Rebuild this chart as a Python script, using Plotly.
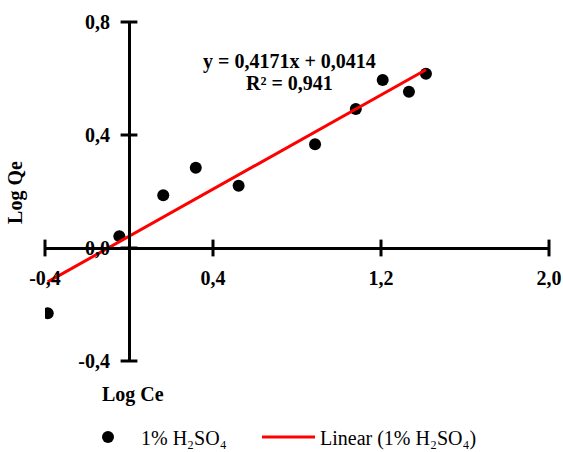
import plotly.graph_objects as go

# Freundlich isotherm data (log-log)
log_ce = [-0.387, -0.046, 0.163, 0.318, 0.522, 0.886, 1.080, 1.208, 1.333, 1.414]
log_qe = [-0.231, 0.042, 0.187, 0.284, 0.220, 0.367, 0.492, 0.595, 0.553, 0.617]

# Linear fit reported on the chart
slope = 0.4171
intercept = 0.0414
r_squared = 0.941

x_ticks = [-0.4, 0.4, 1.2, 2.0]
x_tick_text = ["-0,4", "0,4", "1,2", "2,0"]
y_ticks = [-0.4, 0.0, 0.4, 0.8]
y_tick_text = ["-0,4", "0,0", "0,4", "0,8"]

x_range = [-0.4, 2.0]
y_range = [-0.4, 0.8]

series_name = "1% H₂SO₄"
fit_name = "Linear (1% H₂SO₄)"

FONT = "Liberation Serif, Times New Roman, serif"
BOLD = dict(family=FONT, size=20, color="black", weight="bold")
LEGEND_FONT = dict(family=FONT, size=20, color="black")

fit_x = [min(log_ce), max(log_ce)]
fit_y = [slope * v + intercept for v in fit_x]

fig = go.Figure()

fig.add_trace(go.Scatter(
    x=log_ce, y=log_qe, mode="markers", name=series_name,
    marker=dict(color="black", size=12), legend="legend",
))
fig.add_trace(go.Scatter(
    x=fit_x, y=fit_y, mode="lines", name=fit_name,
    line=dict(color="#ff0000", width=3), legend="legend2",
))

# Cross tick marks on the axes, which meet at the origin
fig.add_trace(go.Scatter(
    x=x_ticks, y=[0] * len(x_ticks), mode="markers", showlegend=False,
    hoverinfo="skip", cliponaxis=False,
    marker=dict(symbol="line-ns", size=12, line=dict(color="black", width=3)),
))
fig.add_trace(go.Scatter(
    x=[0] * len(y_ticks), y=y_ticks, mode="markers", showlegend=False,
    hoverinfo="skip", cliponaxis=False,
    marker=dict(symbol="line-ew", size=12, line=dict(color="black", width=3)),
))

x_pos = (0 - y_range[0]) / (y_range[1] - y_range[0])
y_pos = (0 - x_range[0]) / (x_range[1] - x_range[0])

fig.update_layout(
    width=563, height=452,
    margin=dict(l=45, r=14, t=22, b=91, autoexpand=False),
    paper_bgcolor="white", plot_bgcolor="white",
    font=dict(family=FONT, color="black"),
    xaxis=dict(
        range=x_range, anchor="free", position=x_pos, automargin=False,
        showgrid=False, zeroline=False,
        showline=True, linecolor="black", linewidth=3,
        tickvals=x_ticks, ticktext=x_tick_text, ticks="",
        ticklabelstandoff=11,
        tickfont=BOLD,
    ),
    yaxis=dict(
        range=y_range, anchor="free", position=y_pos, automargin=False,
        showgrid=False, zeroline=False,
        showline=True, linecolor="black", linewidth=3,
        tickvals=y_ticks, ticktext=y_tick_text, ticks="",
        ticklabelstandoff=14,
        tickfont=BOLD,
    ),
    legend=dict(
        orientation="h", xref="container", yref="container",
        x=0.1332, y=0.033, xanchor="left", yanchor="middle",
        font=LEGEND_FONT, itemwidth=56,
    ),
    legend2=dict(
        orientation="h", xref="container", yref="container",
        x=0.4565, y=0.033, xanchor="left", yanchor="middle",
        font=LEGEND_FONT, itemwidth=53,
    ),
    annotations=[
        dict(x=0.762, y=0.661, xref="x", yref="y",
             xanchor="center", yanchor="middle",
             text=f"y = {slope:.4f}x + {intercept:.4f}".replace(".", ","),
             showarrow=False, font=BOLD),
        dict(x=0.762, y=0.585, xref="x", yref="y",
             xanchor="center", yanchor="middle",
             text=f"R² = {r_squared:.3f}".replace(".", ","),
             showarrow=False, font=BOLD),
        dict(x=-0.0575, y=0.496, xref="paper", yref="paper", text="Log Qe",
             xanchor="center", yanchor="middle",
             textangle=-90, showarrow=False, font=BOLD),
        dict(x=0.02, y=-0.10, xref="x", yref="paper", text="Log Ce",
             xanchor="center", yanchor="middle",
             showarrow=False, font=BOLD),
    ],
)

fig.write_html("out.html")
